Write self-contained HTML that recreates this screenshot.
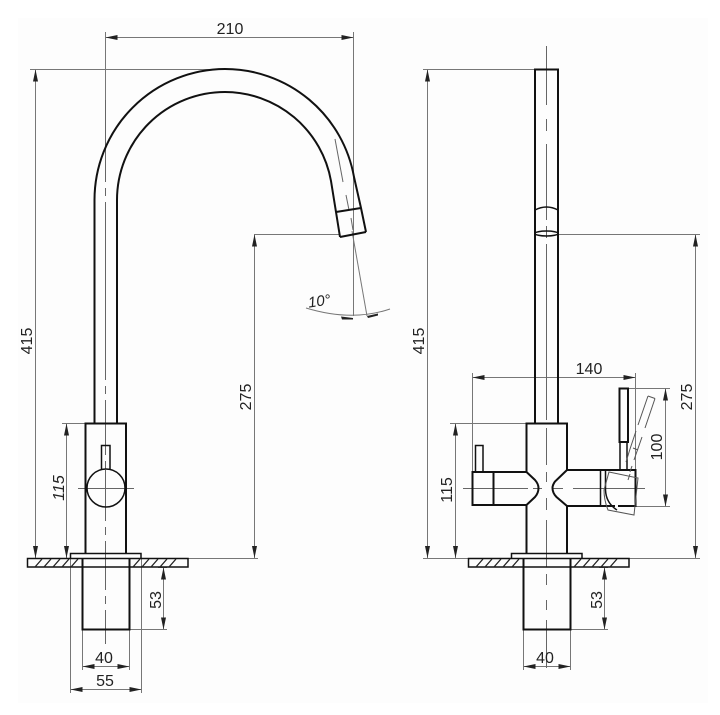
<!DOCTYPE html>
<html><head><meta charset="utf-8"><style>
html,body{margin:0;padding:0;background:#fff}
svg{display:block}
text{font-family:"Liberation Sans",sans-serif;font-size:16px;fill:#222}
.d{stroke:#777;stroke-width:1;fill:none}
.c{stroke:#666;stroke-width:1;fill:none}
.k{stroke:#111;stroke-width:2;fill:none}
.t{stroke:#222;stroke-width:1.3;fill:none}
</style></head><body>
<svg width="720" height="715" viewBox="0 0 720 715" xmlns="http://www.w3.org/2000/svg">
<defs>
<marker id="m" viewBox="0 0 12 5" refX="12" refY="2.5" markerWidth="12" markerHeight="5" orient="auto-start-reverse" markerUnits="userSpaceOnUse"><path d="M12 2.5L0 0V5Z" fill="#222"/></marker>
</defs>
<rect x="18" y="18" width="690" height="685" fill="#fdfdfd"/>

<!-- LEFT: dimension lines -->
<g class="d">
<path d="M105.5 32V100M353.5 32V316"/>
<path d="M30 69.5H225"/>
<path d="M254 234.5H340M188 558.5H258"/>
<path d="M62 423.5H85"/>
<path d="M129 629.5H167M167 567.5H158"/>
<path d="M82.5 629V670M129.5 629V670M70.5 558V693M141.5 558V693"/>
<path d="M352 231L367 316"/>
</g>
<g class="d">
<path d="M105.5 37.5H353.5" marker-start="url(#m)" marker-end="url(#m)"/>
<path d="M35.5 69.5V558" marker-start="url(#m)" marker-end="url(#m)"/>
<path d="M254.5 234.5V558" marker-start="url(#m)" marker-end="url(#m)"/>
<path d="M66.5 423.5V558" marker-start="url(#m)" marker-end="url(#m)"/>
<path d="M163.5 567.5V629.5" marker-start="url(#m)" marker-end="url(#m)"/>
<path d="M82.5 666.5H129.5" marker-start="url(#m)" marker-end="url(#m)"/>
<path d="M70.5 689.5H141.5" marker-start="url(#m)" marker-end="url(#m)"/>
</g>
<path class="d" d="M306 308Q352 322 390 309"/>
<path d="M341 316.5L353 318V319.5L342 319.5Z M378 313.5L367 316L368 318L378 315.5Z" fill="#222"/>

<!-- LEFT: center line -->
<path class="c" d="M105.5 100V182M105.5 188V196M105.5 202V380M105.5 386V394M105.5 400V455M105.5 461V469M105.5 475V521M105.5 527V535M105.5 541V590M105.5 596V604M105.5 610V644"/>
<path class="c" d="M78 488.5H134M105.5 470V506"/>
<path class="c" d="M335 139L343 182M346 195L349 210M351 218L353 230"/>

<!-- LEFT: faucet -->
<g class="k">
<path d="M94.5 423V200A131 131 0 0 1 225 69A131 131 0 0 1 354 177L361 208L366 232"/>
<path d="M117 423V200A108 108 0 0 1 225 92A108 108 0 0 1 331 181L336 212L340 237"/>
<path d="M336 212L361 208M340 237L366 232"/>
<path d="M85.5 553V423.5H126V553"/>
<path d="M101.5 469V445.5H110V469" stroke-width="1.5"/>
<circle cx="106" cy="488" r="19" stroke-width="1.5"/>
<path d="M70.5 558V553.5H141V558" stroke-width="1.5"/>
<path d="M27.5 558.5H188V567H27.5Z" stroke-width="1.5"/>
<path d="M82.5 558V629.5H129.5V558" />
</g>
<g class="t"><path d="M35 567L42 559M44 567L51 559M53 567L60 559M62 567L69 559M71 567L78 559M133 567L140 559M142 567L149 559M151 567L158 559M160 567L167 559M169 567L176 559"/></g>

<!-- RIGHT: dimension lines -->
<g class="d">
<path d="M423 69.5H535"/>
<path d="M558 234.5H700"/>
<path d="M423 558.5H700"/>
<path d="M450 423.5H526"/>
<path d="M472.5 373V472M635.5 373V470"/>
<path d="M628 388.5H670M635 506.5H670"/>
<path d="M570 629.5H608M608 567.5H599"/>
<path d="M523.5 629V670M570.5 629V670"/>
</g>
<g class="d">
<path d="M427.5 69.5V558" marker-start="url(#m)" marker-end="url(#m)"/>
<path d="M695.5 234.5V558" marker-start="url(#m)" marker-end="url(#m)"/>
<path d="M472.5 377.5H635.5" marker-start="url(#m)" marker-end="url(#m)"/>
<path d="M665.5 388.5V506.5" marker-start="url(#m)" marker-end="url(#m)"/>
<path d="M455.5 423.5V558" marker-start="url(#m)" marker-end="url(#m)"/>
<path d="M604.5 567.5V629.5" marker-start="url(#m)" marker-end="url(#m)"/>
<path d="M523.5 666.5H570.5" marker-start="url(#m)" marker-end="url(#m)"/>
</g>

<!-- RIGHT: center lines -->
<path class="c" d="M546.5 46V105M546.5 119V131M546.5 144V220M546.5 226V238M546.5 244V420M546.5 428V465M546.5 472V482M546.5 498V510M546.5 520V567M546.5 574V585M546.5 600V610M546.5 620V668"/>
<path class="c" d="M463 488.5H528M533 488.5H542M553 488.5H563M573 488.5H645"/>

<!-- RIGHT: faucet -->
<g class="k">
<path d="M535 423V69.5H558V423"/>
<path d="M535 210Q546.5 204 558 210" stroke-width="1.5"/>
<ellipse cx="546.5" cy="233.5" rx="11.5" ry="2.5" stroke-width="1.5"/>
<path d="M526.5 472V423.5H567V470M526.5 505V553M567 506V553"/>
<path d="M472.5 472H526.5L535 480Q538.5 484 538.5 488Q538.5 493 535 497L526.5 505H472.5Z"/>
<path d="M493.5 472V505"/>
<path d="M475.5 472V445.5H483V472" stroke-width="1.5"/>
<path d="M567 470L555 481.5Q552.5 485 552.5 488Q552.5 493 556.5 497L567 506H615"/>
<path d="M567 470H635.5V506H618"/>
<path d="M600.5 470V506M605.5 470V490Q606 503 617 510" stroke-width="1.5"/>
<path d="M619.5 442V388.5H628V442Z"/>
<path d="M620 442V470M627 442V470" stroke-width="1.5"/>
<path d="M511.5 558V553.5H582V558" stroke-width="1.5"/>
<path d="M468.5 558.5H629V567H468.5Z" stroke-width="1.5"/>
<path d="M523.5 558V629.5H570.5V558"/>
</g>
<g class="t"><path d="M476 567L483 559M485 567L492 559M494 567L501 559M503 567L510 559M512 567L519 559M574 567L581 559M583 567L590 559M592 567L599 559M601 567L608 559M610 567L617 559"/></g>
<!-- ghost handle -->
<g stroke="#555" stroke-width="1" fill="none">
<path d="M648 396L655 398.5"/>
<path d="M648 396L638 425M636 431L630 449L626 462M655 398.5L645 428M642 437L634 460M632 466L630 472"/>
<path d="M633 448L638 450"/>
<path d="M609 472L638 478L634 515L608 510Q604 500 604 490Z"/>
<path d="M630 474L628 480"/>
</g>

<!-- Labels -->
<text x="230" y="34" text-anchor="middle">210</text>
<text transform="translate(32 341) rotate(-90)" text-anchor="middle">415</text>
<text transform="translate(251 397) rotate(-90)" text-anchor="middle">275</text>
<text transform="translate(64 488) rotate(-90)" text-anchor="middle" style="font-style:italic">115</text>
<text transform="translate(161 600) rotate(-90)" text-anchor="middle">53</text>
<text x="104" y="663" text-anchor="middle">40</text>
<text x="105" y="686" text-anchor="middle">55</text>
<text transform="translate(320 306) rotate(-8)" text-anchor="middle" style="font-style:italic;font-size:15px">10°</text>
<text transform="translate(424 341) rotate(-90)" text-anchor="middle">415</text>
<text transform="translate(692 397) rotate(-90)" text-anchor="middle">275</text>
<text x="589" y="374" text-anchor="middle">140</text>
<text transform="translate(662 447) rotate(-90)" text-anchor="middle">100</text>
<text transform="translate(452 490) rotate(-90)" text-anchor="middle">115</text>
<text transform="translate(602 600) rotate(-90)" text-anchor="middle">53</text>
<text x="545" y="663" text-anchor="middle">40</text>
</svg>
</body></html>
